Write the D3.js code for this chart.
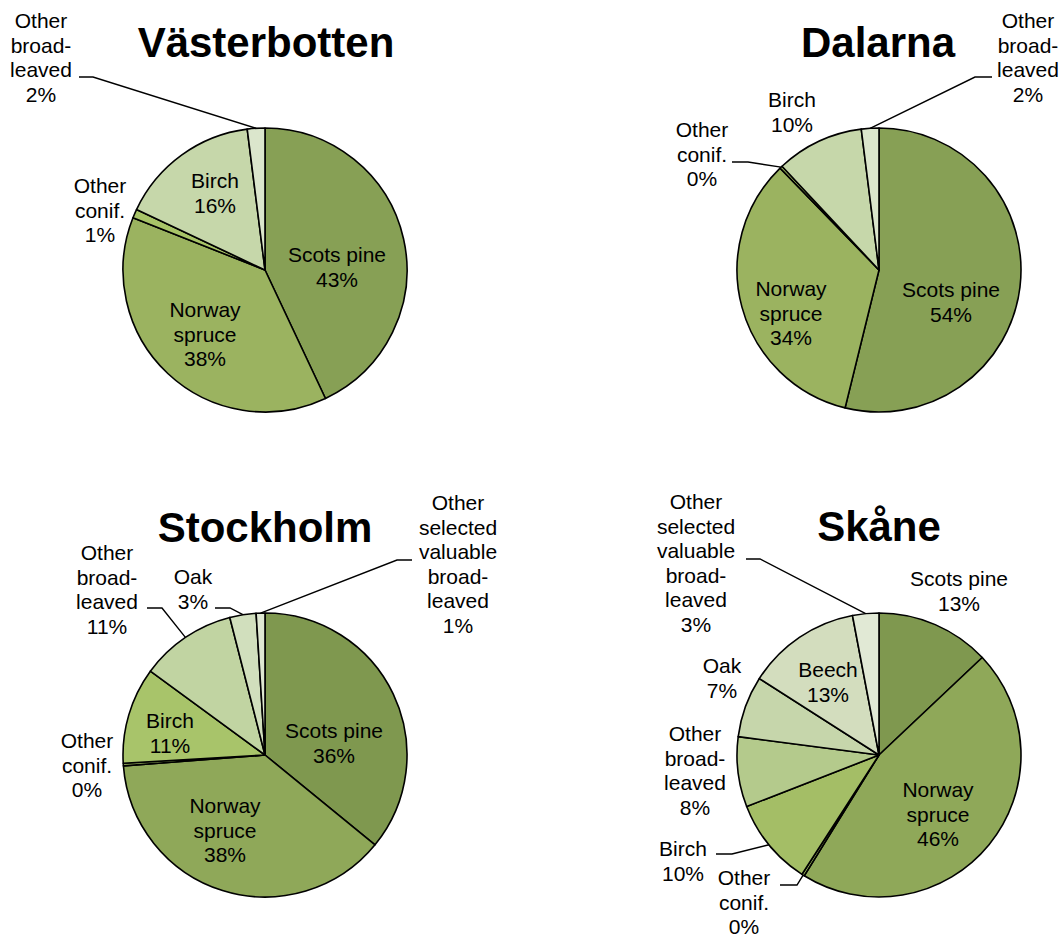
<!DOCTYPE html>
<html>
<head>
<meta charset="utf-8">
<script src="https://cdn.jsdelivr.net/npm/d3@7"></script>
<style>
  html, body { margin: 0; padding: 0; background: #ffffff; }
  svg { display: block; }
  text { font-family: "Liberation Sans", Arial, sans-serif; fill: #000; }
</style>
</head>
<body>
<svg id="chart" width="1063" height="938"></svg>
<script>
// Tree species share of standing volume, by county (%)
const regions = ["Västerbotten", "Dalarna", "Stockholm", "Skåne"];

const vasterbottenSpecies = ["Scots pine", "Norway spruce", "Other conif.", "Birch", "Other broad-leaved"];
const vasterbottenShares  = [43, 38, 1, 16, 2];

const dalarnaSpecies = ["Scots pine", "Norway spruce", "Other conif.", "Birch", "Other broad-leaved"];
const dalarnaShares  = [54, 34, 0.3, 10, 2];

const stockholmSpecies = ["Scots pine", "Norway spruce", "Other conif.", "Birch", "Other broad-leaved", "Oak", "Other selected valuable broad-leaved"];
const stockholmShares  = [36, 38, 0.3, 11, 11, 3, 1];

const skaneSpecies = ["Scots pine", "Norway spruce", "Other conif.", "Birch", "Other broad-leaved", "Oak", "Beech", "Other selected valuable broad-leaved"];
const skaneShares  = [13, 46, 0.3, 10, 8, 7, 13, 3];

// Slice fills, one palette per pie
const vasterbottenColors = ["#87a055", "#9bb360", "#a8c468", "#c6d7aa", "#dbe6cc"];
const dalarnaColors      = ["#87a055", "#9bb360", "#a8c468", "#c6d7aa", "#dbe6cc"];
const stockholmColors    = ["#7f984f", "#8fa859", "#9fb964", "#a8c46a", "#c1d4a2", "#d1dfbd", "#dfe8d2"];
const skaneColors        = ["#7f984f", "#8fa859", "#9cb762", "#a4be66", "#b4ca8c", "#c6d6ab", "#d3ddbe", "#e1e9d5"];

// How each species name breaks over lines
const labelLines = {
  "Scots pine": ["Scots pine"],
  "Norway spruce": ["Norway", "spruce"],
  "Other conif.": ["Other", "conif."],
  "Birch": ["Birch"],
  "Oak": ["Oak"],
  "Beech": ["Beech"],
  "Other broad-leaved": ["Other", "broad-", "leaved"],
  "Other selected valuable broad-leaved": ["Other", "selected", "valuable", "broad-", "leaved"]
};

// Panel layout: pie centre, title baseline, and label placement relative to the centre
// label: [dx, dy of first baseline, leader start dx, dy, leader elbow dx, dy]
const panels = [
  { species: vasterbottenSpecies, shares: vasterbottenShares, colors: vasterbottenColors,
    cx: 265, cy: 270, titleX: 266, titleY: 57,
    labels: [[72, -8], [-60, 47], [-165, -77], [-50, -82], [-224, -242, -186, -193, -172, -193]] },
  { species: dalarnaSpecies, shares: dalarnaShares, colors: dalarnaColors,
    cx: 879, cy: 270, titleX: 878, titleY: 57,
    labels: [[72, 27], [-88, 26], [-177, -133, -147, -108, -131, -108], [-87, -163], [149, -242, 113, -193, 96, -193]] },
  { species: stockholmSpecies, shares: stockholmShares, colors: stockholmColors,
    cx: 265, cy: 755, titleX: 265, titleY: 542,
    labels: [[69, -17], [-40, 58], [-178, -7], [-95, -27],
             [-158, -195, -118, -147, -103, -147], [-72, -171, -50, -147, -35, -147],
             [193, -245, 147, -195, 132, -195]] },
  { species: skaneSpecies, shares: skaneShares, colors: skaneColors,
    cx: 879, cy: 755, titleX: 879, titleY: 541,
    labels: [[80, -169], [59, 42], [-135, 130, -99, 130, -82, 130], [-196, 101, -163, 99, -147, 99],
             [-184, -14], [-157, -82], [-51, -78], [-183, -246, -133, -196, -119, -196]] }
];

const radius = 142;
const lineHeight = 24.5;

const svg = d3.select("#chart");

const pie = d3.pie().sort(null).value(d => d.value);
const arc = d3.arc().innerRadius(0).outerRadius(radius);
const rim = d3.arc().innerRadius(radius).outerRadius(radius);

panels.forEach((p, i) => {
  const data = p.species.map((s, k) => ({ name: s, value: p.shares[k] }));
  const color = d3.scaleOrdinal().domain(p.species).range(p.colors);

  const g = svg.append("g").attr("transform", `translate(${p.cx},${p.cy})`);

  g.selectAll("path.slice")
    .data(pie(data))
    .join("path")
    .attr("class", "slice")
    .attr("d", arc)
    .attr("fill", d => color(d.data.name))
    .attr("stroke", "#000")
    .attr("stroke-width", 1.6)
    .attr("stroke-linejoin", "round");

  // Leader lines from outside labels to the slice rim
  pie(data).forEach((d, k) => {
    const L = p.labels[k];
    if (L.length > 2) {
      const edge = rim.centroid(d);
      g.append("polyline")
        .attr("points", [[L[2], L[3]], [L[4], L[5]], edge].map(q => q.join(",")).join(" "))
        .attr("fill", "none")
        .attr("stroke", "#000")
        .attr("stroke-width", 1.4);
    }
  });

  // Category and percentage labels
  data.forEach((d, k) => {
    const L = p.labels[k];
    const lines = labelLines[d.name].concat([Math.round(d.value) + "%"]);
    const t = g.append("text")
      .attr("text-anchor", "middle")
      .attr("font-size", 21);
    lines.forEach((ln, j) => {
      t.append("tspan")
        .attr("x", L[0])
        .attr("y", L[1] + j * lineHeight)
        .text(ln);
    });
  });

  svg.append("text")
    .attr("x", p.titleX)
    .attr("y", p.titleY)
    .attr("text-anchor", "middle")
    .attr("font-size", 42)
    .attr("font-weight", "bold")
    .text(regions[i]);
});
</script>
</body>
</html>
